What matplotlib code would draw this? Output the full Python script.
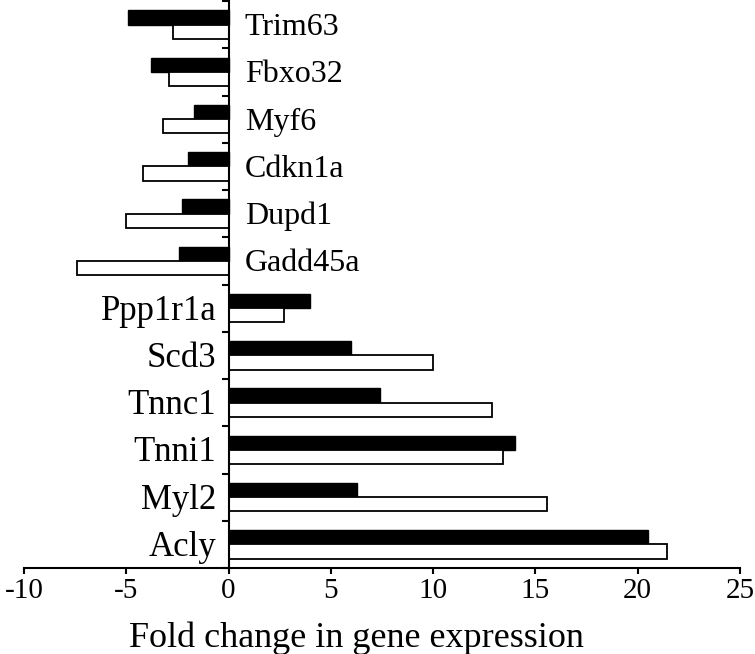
import numpy as np
import matplotlib
matplotlib.use("Agg")
import matplotlib.pyplot as plt
from matplotlib.transforms import offset_copy

plt.rcParams['font.family'] = ['Liberation Serif', 'DejaVu Serif']
plt.rcParams['axes.unicode_minus'] = False

# genes listed bottom -> top
genes = ["Acly", "Myl2", "Tnni1", "Tnnc1", "Scd3", "Ppp1r1a",
         "Gadd45a", "Dupd1", "Cdkn1a", "Myf6", "Fbxo32", "Trim63"]
black_vals = [20.5, 6.3, 14.0, 7.4, 6.0, 4.0,
              -2.4, -2.3, -2.0, -1.7, -3.8, -4.9]
white_vals = [21.45, 15.55, 13.4, 12.9, 10.0, 2.7,
              -7.4, -5.0, -4.2, -3.2, -2.9, -2.7]

fig = plt.figure(figsize=(7.55, 6.54), dpi=100)
ax = fig.add_axes([24 / 755, 1 - 568 / 654, 716 / 755, 567 / 654])

y = np.arange(len(genes))
h = 0.3
ax.barh(y + h / 2, black_vals, height=h, color="black", edgecolor="black", linewidth=1.0)
ax.barh(y - h / 2, white_vals, height=h, color="white", edgecolor="black", linewidth=1.3)

ax.set_xlim(-10, 25)
ax.set_ylim(-0.5, len(genes) - 0.5)

# gene names: negative ones right of zero, positive ones left of zero
for i, (g, b) in enumerate(zip(genes, black_vals)):
    if b < 0:
        fs = 23
        tr = offset_copy(ax.transData, fig=fig, x=0, y=-0.33 * fs, units="points")
        ax.text(0.8, i, g, ha="left", va="baseline", fontsize=fs, transform=tr)
    else:
        fs = 25
        tr = offset_copy(ax.transData, fig=fig, x=0, y=-0.33 * fs, units="points")
        ax.text(-0.6, i, g, ha="right", va="baseline", fontsize=fs, transform=tr)

ax.spines["top"].set_visible(False)
ax.spines["right"].set_visible(False)
ax.spines["left"].set_position(("data", 0))
ax.spines["left"].set_linewidth(1.5)
ax.spines["bottom"].set_linewidth(1.5)

ax.set_xticks(np.arange(-10, 26, 5))
ax.tick_params(axis="x", direction="out", length=4, width=1.5, labelsize=21, pad=3)
ax.set_yticks(np.arange(-0.5, len(genes), 1.0))
ax.set_yticklabels([])
ax.tick_params(axis="y", direction="out", length=5, width=1.5)

fig.text(356 / 755, 1 - 647 / 654, "Fold change in gene expression",
         ha="center", va="baseline", fontsize=26)

fig.savefig("out.png", dpi=100)
